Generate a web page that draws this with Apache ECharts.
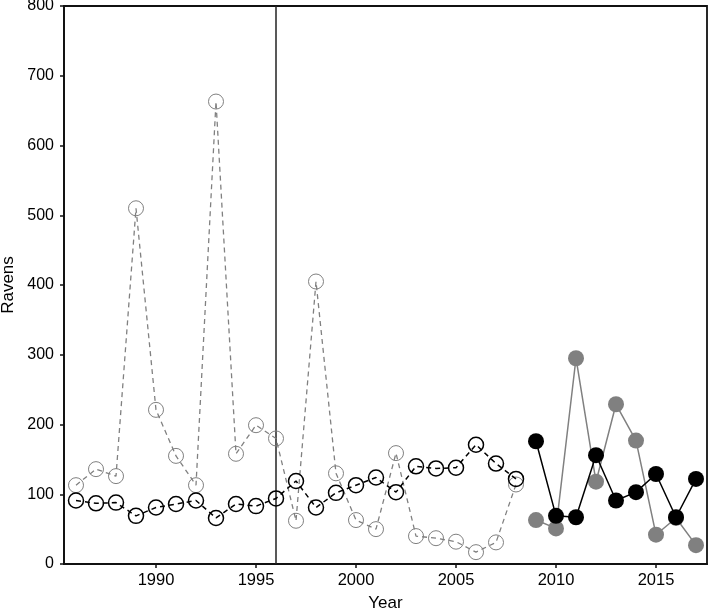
<!DOCTYPE html>
<html>
<head>
<meta charset="utf-8">
<script src="https://cdn.jsdelivr.net/npm/echarts@6/dist/echarts.min.js"></script>
<style>
html,body{margin:0;padding:0;background:#fff;}
#chart{width:709px;height:613px;}
</style>
</head>
<body>
<div id="chart"></div>
<script>
// Data
const yearsEarly = [1986,1987,1988,1989,1990,1991,1992,1993,1994,1995,1996,1997,1998,1999,2000,2001,2002,2003,2004,2005,2006,2007,2008];
const greyEarly = [113,136,126,510,221,155,113,663,158,199,180,62,405,130,63,50,159,40,37,32,17,31,114];
const blackEarly = [91,87,88,69,81,86,91,66,86,83,94,119,81,102,113,124,103,140,137,138,171,144,122];
const yearsLate = [2009,2010,2011,2012,2013,2014,2015,2016,2017];
const blackLate = [176,69,67,156,91,103,129,67,122];
const greyLate = [63,51,295,118,229,177,42,66,27];
const xTicks = [1990,1995,2000,2005,2010,2015];
const dividerYear = 1996;

const pair = (xs, ys) => xs.map((x, i) => [x, ys[i]]);
const font = 'Liberation Sans, Arial, sans-serif';

const chart = echarts.init(document.getElementById('chart'), null, {renderer: 'canvas'});
chart.setOption({
  animation: false,
  backgroundColor: '#fff',
  grid: {left: 64, right: 2, top: 6, bottom: 49, show: true, borderColor: '#111', borderWidth: 1.8,
         containLabel: false, outerBoundsMode: 'none'},
  xAxis: {
    type: 'value', min: 1985.4, max: 2017.55,
    name: 'Year', nameLocation: 'middle', nameGap: 31,
    nameTextStyle: {fontFamily: font, fontSize: 17, color: '#000'},
    axisLine: {show: true, lineStyle: {color: '#111', width: 1.8}},
    axisTick: {show: true, inside: false, length: 4, customValues: xTicks, lineStyle: {color: '#111', width: 1.5}},
    axisLabel: {customValues: xTicks, margin: 8, fontFamily: font, fontSize: 16.5, color: '#000',
                formatter: v => String(v)},
    splitLine: {show: false}
  },
  yAxis: {
    type: 'value', min: 0, max: 800, interval: 100,
    name: 'Ravens', nameLocation: 'middle', nameGap: 43, nameRotate: 90,
    nameTextStyle: {fontFamily: font, fontSize: 17, color: '#000'},
    axisLine: {show: true, lineStyle: {color: '#111', width: 1.8}},
    axisTick: {show: true, inside: false, length: 4, lineStyle: {color: '#111', width: 1.5}},
    axisLabel: {margin: 10, fontFamily: font, fontSize: 16, color: '#000', formatter: v => String(v)},
    splitLine: {show: false}
  },
  series: [
    {
      type: 'line', data: [[dividerYear, 0], [dividerYear, 800]], symbol: 'none',
      lineStyle: {color: '#222', width: 1.5}, silent: true, z: 1
    },
    {
      type: 'line', data: pair(yearsEarly, greyEarly), symbol: 'circle', symbolSize: 15,
      lineStyle: {color: '#808080', width: 1.3, type: [5, 4]},
      itemStyle: {color: 'rgba(0,0,0,0)', borderColor: '#808080', borderWidth: 1}, z: 2
    },
    {
      type: 'line', data: pair(yearsEarly, blackEarly), symbol: 'circle', symbolSize: 15,
      lineStyle: {color: '#000', width: 1.5, type: [5, 4]},
      itemStyle: {color: 'rgba(0,0,0,0)', borderColor: '#000', borderWidth: 1.5}, z: 3
    },
    {
      type: 'line', data: pair(yearsLate, greyLate), symbol: 'circle', symbolSize: 16,
      lineStyle: {color: '#808080', width: 1.5},
      itemStyle: {color: '#808080', borderWidth: 0}, z: 4
    },
    {
      type: 'line', data: pair(yearsLate, blackLate), symbol: 'circle', symbolSize: 16,
      lineStyle: {color: '#000', width: 1.5},
      itemStyle: {color: '#000', borderWidth: 0}, z: 5
    }
  ]
});
</script>
</body>
</html>
